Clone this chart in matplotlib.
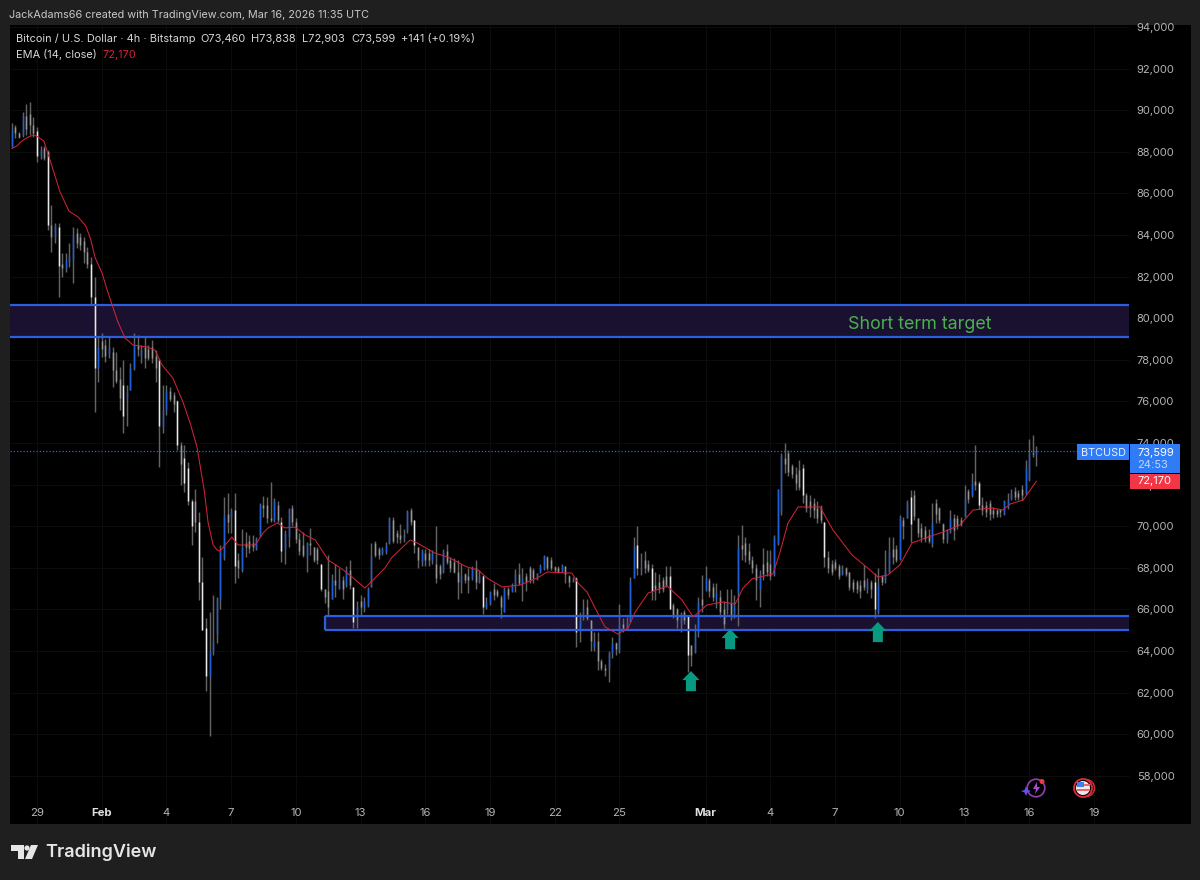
import numpy as np
import pandas as pd
import matplotlib
matplotlib.use("Agg")
import matplotlib.pyplot as plt
import matplotlib.dates as mdates
from matplotlib.patches import Rectangle, Circle, Polygon

plt.rcParams["font.family"] = ["Inter", "DejaVu Sans"]

# 4h BTCUSD bars, in thousands of dollars
opens = [
    88.25,89.2,88.9,88.8,89.7,89.8,89.3,89.0,87.8,88.2,
    88,84.5,83.9,84.4,82.6,82.4,82.7,82.8,84.1,83.9,
    83.7,83.2,82.6,81,77.6,78.9,78.7,78.3,78.4,77.5,
    77.1,76.8,76.15,76.55,77.6,78.7,78.2,78.6,78.5,78.6,
    78.2,78,74.8,75.6,76.5,76.3,76,73.9,73.3,72.8,
    71.2,71.2,70.2,67.3,65.1,62.8,64,64.8,66.5,68.5,
    70.6,70.45,70.8,68.4,67.9,69.2,69.3,69.2,68.95,69.6,
    71,71,70.4,70.3,71,70.2,68.9,69.5,70.9,70.2,
    69.4,69.1,68.5,69.2,69,68.9,68.2,67,66.9,66.5,
    67.4,67,67.4,67.2,67.9,67.1,65.7,66.4,66.1,66.2,
    67.1,69.2,68.9,68.7,68.75,69.2,70.3,69.7,69.6,69.5,
    69.8,70.8,70.3,69,68.3,68.7,68.7,68.4,68.2,68.1,
    67.8,68.8,68.4,68.3,67.8,67.3,67.7,67.6,67.5,68,
    67.35,67.6,66.1,66.3,67,66.9,66.6,65.9,67,66.9,
    67.2,67.7,67.25,67.6,68,67.9,67.5,67.8,68,68.5,
    68.4,68.05,68,67.85,68.1,67.6,67.35,67.5,65,65.8,
    66.1,65.5,64.2,64.5,63.5,63.2,63.2,63.9,64.4,64,
    65.3,65.05,65.4,67.5,69.1,67.9,68.4,68.2,68,67.2,
    67.3,67.4,67.6,67.6,66.2,66,65.35,65.9,65.7,64.3,
    63.95,64.85,66.5,66.95,67.4,67.1,66.5,66.6,66,66,
    66.3,65.8,66.8,69.1,69.2,68.8,68.4,68,67,68.2,
    68.3,68.2,67.7,69.2,70.7,73.3,73.5,72.9,72.5,72.7,
    72.8,71.5,71.2,71.1,70.9,70.9,70.2,68.5,68.2,68.3,
    68.1,67.7,68,67.8,67.3,67.3,67.2,67.4,67,67.3,
    67.3,65.9,67.6,67.4,67.8,68.9,68.9,68.45,70.3,70.4,
    71.4,71.5,70.4,69.9,69.8,69.6,69.2,71.1,70.9,70.1,
    69.4,69.75,70.4,70.4,70.3,70.5,71.7,71.5,72.2,72.1,
    71,71,71.1,70.8,70.8,70.8,70.6,71,71.3,71.7,
    71.6,71.8,71.6,72.25,73.5,73.46,
]
highs = [
    89.37,89.29,88.97,89.93,90.3,90.38,89.69,89.21,88.3,88.3,
    88.09,85.44,84.56,84.56,83.12,83.12,83.6,84.4,84.32,84.1,
    83.92,83.44,82.96,82,79.1,79.27,79,79.1,78.6,78.4,
    77.67,78,76.8,77.83,79.27,79.2,78.7,79.1,78.7,78.95,
    78.47,78.07,76.79,76.79,76.7,76.47,76.07,74.07,73.9,73.1,
    71.3,71.78,70.7,68.5,65.6,65.9,66.7,66.6,69.1,71.4,
    71.6,70.9,71.58,68.7,69.85,69.74,69.58,69.58,69.5,71.1,
    71.45,71.4,72.15,71.34,71.2,70.45,69.8,70.9,71,70.4,
    69.66,69.74,69.26,69.9,69,69,68.2,67,68.6,67.7,
    68.2,68,67.6,68.1,68.4,67.1,66.4,66.7,66.6,67.1,
    69.2,69.3,69,69,69.26,70.46,70.46,69.8,70.1,69.85,
    70.8,70.86,70.3,69,68.9,68.9,68.9,68.85,70,68.2,
    68.9,69.15,68.5,68.46,68.4,68.2,67.74,68,68.1,68.4,
    67.9,67.65,66.6,66.9,67.25,67,66.7,67.1,67.1,67.25,
    67.93,68.25,68,67.74,68.1,68,67.77,68.2,68.6,68.57,
    68.5,68.1,68.1,68.2,68.1,67.65,67.55,67.57,65.9,66.5,
    66.5,65.5,64.9,64.9,63.6,63.4,64,64.7,64.45,66.25,
    65.6,65.65,67.55,69.5,70,68.7,68.8,68.4,68.2,67.8,
    67.7,67.55,68.1,68.1,66.3,66.05,65.9,65.97,65.7,64.3,
    65.3,66.6,67.65,68.1,67.5,67.25,67.25,66.94,66.4,67,
    67,66.7,69.6,70.07,69.5,69.2,68.55,68.2,67.9,68.95,
    68.85,68.85,69.6,71.8,73.5,74,73.67,73,72.87,73.2,
    73,71.6,71.5,71.35,71.2,71,70.2,68.8,68.4,68.45,
    68.2,68.15,68.05,67.8,67.45,67.4,67.4,68.15,67.5,67.4,
    67.75,68,67.65,68.85,69.5,69.5,69.1,70.55,70.45,71.25,
    71.75,71.75,70.4,70.15,70,69.85,71.1,71.3,70.95,70.15,
    69.85,70.8,70.6,70.55,70.45,72,71.8,72.55,73.9,72.2,
    71.4,71.2,71.25,70.95,70.85,70.85,71.25,71.6,71.8,71.9,
    71.75,72,73.2,74.2,74.4,73.84,
]
lows = [
    88.25,88.65,88.65,88.73,88.81,88.81,88.73,87.53,87.64,87.6,
    84.24,83.2,83.6,81.04,82,82.24,82.48,81.68,83.36,83.28,
    82.64,82.4,80.7,75.51,76.95,78.15,77.9,78.07,76.7,76.87,
    75.59,74.47,74.8,76.55,77.5,78.2,77.83,77.6,78,77.83,
    76.95,72.87,74.47,75.35,76,75.5,73.67,72,71.66,71,
    69.1,69.74,66.46,65,62.1,59.9,63.8,64.4,66,68.4,
    69.66,69.66,67.26,67.5,67.8,68.5,68.7,68.8,68.86,69.5,
    70.45,70.15,70.2,70.2,70.15,68.3,68.2,69,70,69.2,
    68.6,68.5,67.8,68.6,68.3,68.2,66.9,66.3,65.7,66.5,
    66.6,67,66.5,67.1,67,65.1,65.1,65.7,65.9,66.1,
    67.1,68.5,68.45,68.6,68.66,69.15,69.2,69.2,69.2,69.25,
    69.7,70.06,68.7,68,68.1,68.1,68.1,68.2,67.25,67.47,
    67.77,68.2,67.8,67.74,66.5,66.8,67.25,66.8,67.4,67,
    67.25,65.8,66,66.2,66.45,66.6,65.6,65.9,66.5,66.85,
    66.85,67.2,66.4,66.9,67.25,67.25,67.4,67.77,67.9,67.9,
    67.9,67.8,67.74,67.8,67.25,67.1,67.3,64.2,64.45,65.5,
    65.5,64,64,63.1,63.1,62.8,62.5,63.65,63.8,63.9,
    64.9,65,65.4,67.5,67.65,67.65,67.74,67.8,66.45,66.45,
    66.8,66.85,67.1,66,65.6,65.1,64.9,65.3,63,63.3,
    63.9,64.7,65.9,66.9,66.6,66.4,66.05,65.66,65,65.8,
    65.5,65.6,65.2,68.4,68.3,68.2,67.75,66.45,66.1,67.4,
    67.6,67.4,67.6,69.1,70.55,72.55,72.4,72.3,71.75,71.75,
    71.1,70.7,70.45,70.4,70.15,70.15,68.05,67.75,67.65,67.9,
    67.45,67.65,67.6,66.95,66.85,66.8,66.55,66.95,66.8,66.55,
    65.6,65.8,67.2,67.25,67.75,68.2,68.3,68.4,69.4,70.4,
    69.25,70.3,69.5,69.25,69.25,69.2,69,70.15,70.15,69.2,
    69.2,69.7,69.35,69.85,70,70.45,71.1,71.4,71.75,70.85,
    70.55,70.45,70.3,70.4,70.45,70.45,70.55,70.85,71.25,71.25,
    71.25,71.25,71.5,72.2,73.35,72.9,
]
closes = [
    89.05,88.9,88.7,89.7,89.1,89.3,88.9,87.8,88.1,87.7,
    84.5,83.9,84.5,82.5,82.4,82.8,83,84,83.6,83.5,
    83.2,82.6,81,77.6,78.6,78.5,78.2,78.6,77.5,77,
    76.15,75.3,76.47,77.6,78.7,78.5,78.47,78.1,78.1,78.1,
    77.6,74.8,75.6,76.5,76.1,75.9,73.9,73,72.1,71.2,
    70,70.2,67.3,65,62.8,64,64.5,66.5,68.85,70.55,
    70.2,70.75,68.1,68,69,69,68.95,69,69.4,71,
    70.9,70.4,70.3,71.2,70.3,68.8,69.7,70.85,70.2,69.4,
    68.8,68.6,69.2,69.1,68.4,68.4,67,66.6,66.1,67.4,
    67.2,67.4,67,67.9,67.2,65.4,66.1,66.1,66.4,67,
    68.5,68.6,68.6,68.9,69.1,70.4,69.3,69.5,69.4,69.6,
    70.7,70.2,69.1,68.4,68.8,68.4,68.4,68.7,67.5,67.7,
    68.75,68.3,68,67.8,67.3,67.65,67.4,67.4,68.05,67.3,
    67.6,66.1,66.35,66.85,66.7,66.7,66.1,67,66.7,67.2,
    67.7,67.25,67.5,67.3,67.4,67.5,67.75,68.1,68.55,68,
    68,67.9,67.8,68.1,67.7,67.3,67.5,64.9,65.5,66,
    65.6,64.5,64.5,63.5,63.2,63.1,63.9,64.4,64.1,65.3,
    65.1,65.35,67.35,69,68,68,68,67.9,66.9,67,
    67,67,67.2,66,65.75,65.5,65.8,65.5,63.8,63.8,
    64.85,66.3,66.2,67.5,66.9,66.6,66.8,65.9,65.3,66.3,
    65.7,66.2,69,68.9,68.6,68.4,68,67.4,67.7,67.7,
    67.8,67.6,69.5,71.8,73.4,73,72.6,72.5,72.1,71.9,
    71.5,70.9,70.9,70.8,70.4,70.3,68.5,68,67.8,68,
    67.6,67.9,67.7,67.1,67,67,66.9,67.1,67.3,67,
    66,67.2,67.3,67.9,68.8,68.5,68.4,70.4,70,71.1,
    70.1,70.5,69.7,69.5,69.4,69.3,70.15,70.6,70.3,69.4,
    69.75,70.4,69.8,70,70.1,71.35,71.3,72.1,72,71,
    70.8,70.7,70.6,70.6,70.6,70.7,71.2,71.25,71.6,71.4,
    71.4,71.5,72.8,73.5,73.46,73.6,
]

# EMA line: bar number and value
ema_bars = [0,1.4,2.8,4.5,6.2,7.3,8.9,10,11.5,13.4,15.9,18.4,20.6,22,23.1,25.1,26.5,27.9,29.5,31.5,
            33.7,37.6,39.8,41.8,44.8,47.6,49.6,51.5,53.5,54.6,56,57.1,57.9,61.2,62.9,67.7,69.9,71.3,73.8,76,
            78.8,81.6,84.4,88,92.2,95,98.2,100.5,103.8,105.8,110.8,112.7,117.7,121.3,126.6,129.7,132.2,136.4,141.4,146.1,
            148.9,155.8,157.5,160,162.8,165,168.6,171.4,173.4,177,182.3,186.4,189.5,193.4,197.8,201.2,203.4,205.9,211.7,213.6,
            215.9,218.7,224.8,228.4,233.7,238.7,240.9,243.7,247,250.4,254.8,259,263.7,267.4,272.6,275.7,277.7,281.3,285]
ema_vals = [88.16,88.28,88.52,88.71,88.81,88.71,88.52,87.94,87.12,86.07,85.15,84.87,84.43,83.76,82.94,82.17,81.36,80.64,79.82,79.05,
            78.71,78.62,78.47,77.75,77.12,75.97,74.96,73.81,71.74,70.16,69.1,68.86,68.81,69.48,69.1,69.1,69.68,69.92,70.16,69.92,
            69.96,69.58,69.34,68.38,67.9,67.51,67.03,67.42,68.0,68.52,69.34,69.2,68.71,68.52,68.04,67.9,67.51,67.08,67.18,67.51,
            67.8,67.75,67.27,66.84,65.88,65.16,64.82,65.11,65.88,66.79,67.13,66.46,65.64,66.22,66.36,66.26,67.03,67.47,67.71,68.71,
            70.16,70.93,70.93,69.82,68.62,67.9,67.56,67.66,68.14,69.2,69.48,69.72,70.06,70.78,70.88,70.78,71.07,71.26,72.17]

price_ticks = list(range(58000, 96000, 2000))
tick_dates = ["2026-01-29", "2026-02-01", "2026-02-04", "2026-02-07", "2026-02-10", "2026-02-13",
              "2026-02-16", "2026-02-19", "2026-02-22", "2026-02-25", "2026-03-01", "2026-03-04",
              "2026-03-07", "2026-03-10", "2026-03-13", "2026-03-16", "2026-03-19"]
tick_labels = ["29", "Feb", "4", "7", "10", "13", "16", "19", "22", "25", "Mar", "4", "7", "10", "13", "16", "19"]

zone_upper = (79100, 80640)
zone_lower = (65000, 65700)
last_price = 73599
arrow_bars = [188.9, 199.8, 240.9]
arrow_tips = [63040, 65060, 65400]

BG = "#1f1f1f"
BLUE = "#2a5fe0"
ZONE = "#1a1030"
TICK = "#b4b4b4"

dates = pd.date_range("2026-01-27 20:00", periods=len(opens), freq="4h")
x = mdates.date2num(dates)
o = np.array(opens) * 1000
h = np.array(highs) * 1000
l = np.array(lows) * 1000
c = np.array(closes) * 1000
ema_x = np.interp(ema_bars, np.arange(len(x)), x)
ema_y = np.array(ema_vals) * 1000

W, H = 1200, 880
fig = plt.figure(figsize=(W / 100, H / 100), dpi=100, facecolor=BG)
ax = fig.add_axes([10 / W, 1 - 824 / H, 1181 / W, 799 / H], facecolor="black")

d0 = mdates.date2num(pd.Timestamp("2026-01-29"))
pane_end = mdates.date2num(pd.Timestamp("2026-03-20 15:00"))
ax.set_xlim(d0 - 1.252, d0 + 53.5)
ax.set_ylim(55688, 94096)

tick_x = mdates.date2num(pd.to_datetime(tick_dates))
ax.hlines(price_ticks, d0 - 1.252, pane_end, color="#0c0c0c", lw=0.8, zorder=0)
ax.vlines(tick_x, 55688, 94096, color="#0c0c0c", lw=0.8, zorder=0)

# zones sit under the bars, their edges on top
start_low = mdates.date2num(pd.Timestamp("2026-02-11 08:00"))
ax.add_patch(Rectangle((d0 - 1.252, zone_upper[0]), pane_end - d0 + 1.252, zone_upper[1] - zone_upper[0],
                       fc=ZONE, ec="none", zorder=1))
ax.add_patch(Rectangle((start_low, zone_lower[0]), pane_end - start_low, zone_lower[1] - zone_lower[0],
                       fc=ZONE, ec="none", zorder=1))

# bars
up = c >= o
body_col = np.where(up, "#1f5fd6", np.where(o - c > 1000, "#e8e8e8", "#969696"))
ax.vlines(x, l, h, color="#636363", lw=1.05, zorder=2)
ax.vlines(x, np.minimum(o, c), np.maximum(o, c), colors=list(body_col), lw=1.05, zorder=3)

ax.hlines(zone_upper, d0 - 1.252, pane_end, color=BLUE, lw=1.6, zorder=5)
ax.hlines(zone_lower, start_low, pane_end, color=BLUE, lw=1.6, zorder=5)
ax.vlines(start_low, zone_lower[0], zone_lower[1], color=BLUE, lw=1.6, zorder=5)

ax.plot(ema_x, ema_y, color="#cf2338", lw=0.75, zorder=6)

ax.hlines(last_price, d0 - 1.252, mdates.date2num(pd.Timestamp("2026-03-18 05:00")),
          color="#2962ff", lw=0.9, linestyle=(0, (1, 1.6)), zorder=3)

for b, tip in zip(arrow_bars, arrow_tips):
    tip_x = np.interp(b, np.arange(len(x)), x)
    ax.annotate("", xy=(tip_x, tip), xytext=(0, -14.5), textcoords="offset points", zorder=7,
                arrowprops=dict(width=7.2, headwidth=12.5, headlength=6.5, shrink=0, lw=0, color="#089981"))

ax.text(mdates.date2num(pd.Timestamp("2026-03-10 22:00")), 79720, "Short term target",
        color="#4caf50", fontsize=12.9, ha="center", va="center", zorder=8)

ax.set_yticks(price_ticks)
ax.set_yticklabels([f"{p:,}" for p in price_ticks])
ax.yaxis.tick_right()
ax.tick_params(axis="y", length=0, pad=-39, labelsize=8.0, labelcolor=TICK)
ax.set_xticks(tick_x)
ax.set_xticklabels(tick_labels)
ax.tick_params(axis="x", length=0, pad=-11.5, labelsize=8.2, labelcolor=TICK)
for t in ax.get_xticklabels():
    if t.get_text() in ("Feb", "Mar"):
        t.set_fontweight("bold")
        t.set_color("#e0e0e0")
for s in ax.spines.values():
    s.set_visible(False)

# chrome drawn in pixel coordinates
ov = fig.add_axes([0, 0, 1, 1], facecolor="none")
ov.set_xlim(0, W)
ov.set_ylim(H, 0)
ov.axis("off")

ov.text(9, 14.5, "JackAdams66 created with TradingView.com, Mar 16, 2026 11:35 UTC",
        color="#c8c8c8", fontsize=7.8, va="center")
ov.text(16, 39, "Bitcoin / U.S. Dollar \u00b7 4h \u00b7 Bitstamp", color="#d8d8d8", fontsize=7.9, va="center")
ov.text(200, 39, "O73,460", color="#d8d8d8", fontsize=7.9, va="center")
ov.text(251, 39, "H73,838", color="#d8d8d8", fontsize=7.9, va="center")
ov.text(302, 39, "L72,903", color="#d8d8d8", fontsize=7.9, va="center")
ov.text(351, 39, "C73,599", color="#d8d8d8", fontsize=7.9, va="center")
ov.text(401, 39, "+141 (+0.19%)", color="#d8d8d8", fontsize=7.9, va="center")
ov.text(16, 55, "EMA (14, close)", color="#d8d8d8", fontsize=7.9, va="center")
ov.text(103, 55, "72,170", color="#d3233a", fontsize=7.9, va="center")

ov.add_patch(Rectangle((1077, 444), 52, 16, fc="#2f7cf6", ec="none", zorder=5))
ov.text(1103, 452.5, "BTCUSD", color="#e8f0ff", fontsize=7.8, ha="center", va="center", zorder=6)
ov.add_patch(Rectangle((1130, 444), 50, 29, fc="#2f7cf6", ec="none", zorder=5))
ov.text(1137, 452.5, "73,599", color="white", fontsize=8.0, va="center", zorder=6)
ov.text(1137, 465, "24:53", color="#c2d8fb", fontsize=8.0, va="center", zorder=6)
ov.add_patch(Rectangle((1130, 474), 50, 15, fc="#f23645", ec="none", zorder=5))
ov.text(1137, 481.5, "72,170", color="white", fontsize=8.0, va="center", zorder=6)

# TradingView logo
ov.add_patch(Polygon([(11, 845), (24, 845), (24, 859), (18, 859), (18, 851), (11, 851)], fc="#e6e6e6", ec="none"))
ov.add_patch(Circle((27, 848), 2.6, fc="#e6e6e6", ec="none"))
ov.add_patch(Polygon([(31, 845), (38, 845), (32, 859), (25, 859)], fc="#e6e6e6", ec="none"))
ov.text(45, 852.5, "TradingView", color="#e6e6e6", fontsize=13.0, fontweight="semibold", va="center")

# bottom event icons
ov.add_patch(Circle((1036, 788), 8.8, fc="none", ec="#8e3fb0", lw=1.2))
ov.add_patch(Polygon([(1037, 782), (1033, 789), (1036, 789), (1035, 794), (1040, 787), (1037, 787)], fc="#a24fd0", ec="none"))
ov.add_patch(Polygon([(1026, 786), (1027.5, 790), (1031, 791), (1027.5, 792.5), (1026, 796),
                      (1024.5, 792.5), (1021, 791), (1024.5, 790)], fc="#6a4df0", ec="none"))
ov.add_patch(Circle((1042, 781.5), 2.5, fc="#f23645", ec="none"))
ov.add_patch(Circle((1086, 788), 8.5, fc="black", ec="#d8293c", lw=1.1))
ov.add_patch(Circle((1083, 788), 9, fc="black", ec="#e02a3e", lw=1.3))
ov.add_patch(Circle((1083, 788), 7, fc="#f0e8e8", ec="none"))
ov.add_patch(Rectangle((1076.5, 784), 13, 2.2, fc="#f0646e", ec="none"))
ov.add_patch(Rectangle((1077, 789), 12.5, 2.2, fc="#f0646e", ec="none"))
ov.add_patch(Rectangle((1077, 782), 6.5, 5.5, fc="#3f7fe8", ec="none"))

fig.savefig("out.png", dpi=100, facecolor=BG)
